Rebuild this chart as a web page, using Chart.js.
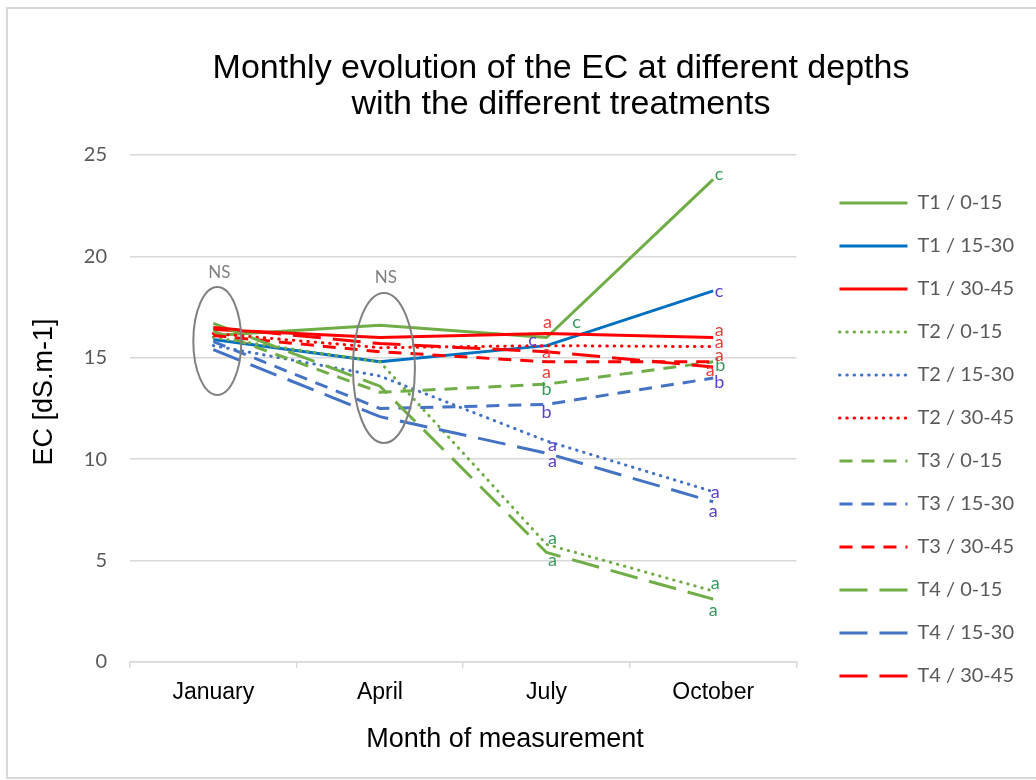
<!DOCTYPE html>
<html>
<head>
<meta charset="utf-8">
<script src="https://cdn.jsdelivr.net/npm/chart.js@4.4.1/dist/chart.umd.min.js"></script>
<style>
  html, body { margin: 0; padding: 0; background: #fff; overflow: hidden; }
  #wrap { position: fixed; left: 0; top: 0; width: 1036px; height: 780px; overflow: hidden; }
  #frame { position: absolute; left: 6px; top: 7px; width: 1200px; height: 772px; box-sizing: border-box; border: 2px solid #d9d9d9; }
  #chart { position: absolute; left: 0; top: 0; }
</style>
</head>
<body>
<div id="wrap">
<div id="frame"></div>
<canvas id="chart" width="1036" height="780"></canvas>
</div>
<script>
const months = ["January", "April", "July", "October"]

const seriesNames = [
  "T1 / 0-15", "T1 / 15-30", "T1 / 30-45",
  "T2 / 0-15", "T2 / 15-30", "T2 / 30-45",
  "T3 / 0-15", "T3 / 15-30", "T3 / 30-45",
  "T4 / 0-15", "T4 / 15-30", "T4 / 30-45",
]

// EC values [dS.m-1] for January, April, July, October
const t1_0_15 = [16.1, 16.6, 16.0, 23.8]
const t1_15_30 = [15.9, 14.8, 15.6, 18.3]
const t1_30_45 = [16.4, 16.0, 16.2, 16.0]
const t2_0_15 = [16.0, 14.8, 5.8, 3.5]
const t2_15_30 = [15.6, 14.1, 10.9, 8.4]
const t2_30_45 = [16.2, 15.5, 15.6, 15.55]
const t3_0_15 = [16.3, 13.3, 13.7, 14.8]
const t3_15_30 = [15.8, 12.5, 12.7, 14.0]
const t3_30_45 = [16.1, 15.3, 14.8, 14.8]
const t4_0_15 = [16.7, 13.6, 5.4, 3.1]
const t4_15_30 = [15.4, 12.1, 10.3, 7.9]
const t4_30_45 = [16.5, 15.7, 15.3, 14.55]

const seriesValues = [
  t1_0_15, t1_15_30, t1_30_45,
  t2_0_15, t2_15_30, t2_30_45,
  t3_0_15, t3_15_30, t3_30_45,
  t4_0_15, t4_15_30, t4_30_45,
]

// significance letters at July and October
const lettersJuly = ["c", "c", "a", "a", "a", "a", "b", "b", "a", "a", "a", ""]
const lettersOctober = ["c", "c", "a", "a", "a", "a", "b", "b", "a", "a", "a", "a"]

// "NS" groups (January, April): ellipse centre and half height in EC units
const nsMonthIndex = [0, 1]
const nsCentre = [15.83, 14.5]
const nsHalfHeight = [2.66, 3.7]

//styles
const depthColors = ["#70ad47", "#4472c4", "#ff0000"]
const t1Colors = ["#70ad47", "#0070c0", "#ff0000"]
const letterColors = ["#3a9a5e", "#5b3fcf", "#f03c3c"]
const treatmentDash = [[], [0.5, 6.8], [13, 9], [28, 12]]
const julyOffsets = [[30, -15], [-14, -5], [1, -11], [6, -6], [6, 4], [0, 7], [0, 5], [0, 8], [0, 10], [6, 8], [6, 8], [0, 0]]
const octoberOffsets = [[6, -5], [6, 0], [6, -7], [2, -8], [2, 1], [6, -4], [7, 3], [6, 4], [6, -7], [0, 11], [0, 9], [-3, 3]]
const nsHalfWidth = [24, 31]

const datasets = seriesValues.map((values, i) => {
  const treatment = Math.floor(i / 3)
  const depth = i % 3
  const color = treatment === 0 ? t1Colors[depth] : depthColors[depth]
  return {
    label: seriesNames[i],
    data: values,
    borderColor: color,
    backgroundColor: color,
    borderWidth: 3,
    borderDash: treatmentDash[treatment],
    borderCapStyle: treatment === 1 ? "round" : "butt",
    pointRadius: 0,
    tension: 0,
    fill: false,
    order: 12 - i,
  }
})

// chart title and axis titles, placed where the original has them
const titlesPlugin = {
  id: "titles",
  afterDraw(chart) {
    const ctx = chart.ctx
    ctx.save()
    ctx.fillStyle = "#000"
    ctx.textAlign = "center"
    ctx.textBaseline = "alphabetic"
    ctx.font = "34px 'Liberation Sans', Arial, sans-serif"
    ctx.fillText("Monthly evolution of the EC at different depths", 561, 78)
    ctx.fillText("with the different treatments", 561, 114)
    ctx.font = "27px 'Liberation Sans', Arial, sans-serif"
    ctx.textBaseline = "middle"
    ctx.fillText("Month of measurement", 505, 740)
    ctx.translate(45, 392)
    ctx.rotate(-Math.PI / 2)
    ctx.fillText("EC [dS.m-1]", 0, 0)
    ctx.restore()
  }
}

// letters and NS ellipses
const notesPlugin = {
  id: "notes",
  afterDatasetsDraw(chart) {
    const ctx = chart.ctx
    const x = chart.scales.x
    const y = chart.scales.y
    ctx.save()
    ctx.font = "18px Lato, sans-serif"
    ctx.textAlign = "center"
    ctx.textBaseline = "middle"
    seriesValues.forEach((values, i) => {
      ctx.fillStyle = letterColors[i % 3]
      if (lettersJuly[i]) {
        ctx.fillText(lettersJuly[i], x.getPixelForValue(2) + julyOffsets[i][0], y.getPixelForValue(values[2]) + julyOffsets[i][1])
      }
      if (lettersOctober[i]) {
        ctx.fillText(lettersOctober[i], x.getPixelForValue(3) + octoberOffsets[i][0], y.getPixelForValue(values[3]) + octoberOffsets[i][1])
      }
    })
    nsMonthIndex.forEach((m, k) => {
      const cx = x.getPixelForValue(m) + 4
      const cy = y.getPixelForValue(nsCentre[k])
      const ry = y.getPixelForValue(nsCentre[k] - nsHalfHeight[k]) - cy
      ctx.strokeStyle = "#808080"
      ctx.lineWidth = 2
      ctx.setLineDash([])
      ctx.beginPath()
      ctx.ellipse(cx, cy, nsHalfWidth[k], ry, 0, 0, Math.PI * 2)
      ctx.stroke()
      ctx.fillStyle = "#808080"
      ctx.font = "17px Lato, sans-serif"
      ctx.fillText("NS", cx + 2, cy - ry - 15)
    })
    ctx.restore()
  }
}

const chart = new Chart(document.getElementById("chart"), {
  type: "line",
  data: { labels: months, datasets: datasets },
  plugins: [titlesPlugin, notesPlugin],
  options: {
    responsive: false,
    animation: false,
    layout: { padding: { top: 155, left: 20, bottom: 10, right: 12 } },
    plugins: {
      tooltip: { enabled: false },
      legend: {
        position: "right",
        align: "start",
        reverse: true,
        maxWidth: 300,
        title: { display: true, text: "", font: { size: 1, lineHeight: 1 }, padding: { top: 14, bottom: 0 } },
        labels: {
          usePointStyle: true,
          pointStyle: "line",
          pointStyleWidth: 68,
          padding: 23,
          color: "#595959",
          font: { family: "Lato", size: 20 },
          // legend keeps each series' dash pattern
          generateLabels(chart) {
            const items = Chart.defaults.plugins.legend.labels.generateLabels(chart)
            items.forEach(item => {
              const ds = chart.data.datasets[item.datasetIndex]
              item.lineDash = ds.borderDash
              item.lineCap = ds.borderCapStyle
              item.lineWidth = 3
              item.strokeStyle = ds.borderColor
            })
            return items
          },
        },
      },
    },
    scales: {
      x: {
        offset: true,
        grid: { display: true, drawOnChartArea: false, offset: true, tickLength: 6, color: "#d9d9d9", lineWidth: 1.5 },
        border: { display: true, color: "#d9d9d9", width: 1.5 },
        ticks: { color: "#000", padding: 11, font: { family: "'Liberation Sans', Arial", size: 23 } },
        afterFit(scale) { scale.height = 108 },
      },
      y: {
        min: 0,
        max: 25,
        ticks: { stepSize: 5, color: "#595959", padding: 23, font: { family: "Lato", size: 20 } },
        grid: { color: "#d9d9d9", lineWidth: 1.5, drawTicks: false },
        border: { display: false },
        afterFit(scale) { scale.width = 110 },
      },
      gap: {
        position: "right",
        display: true,
        grid: { display: false },
        border: { display: false },
        ticks: { display: false },
        afterFit(scale) { scale.width = 20 },
      },
    },
  },
})
</script>
</body>
</html>
